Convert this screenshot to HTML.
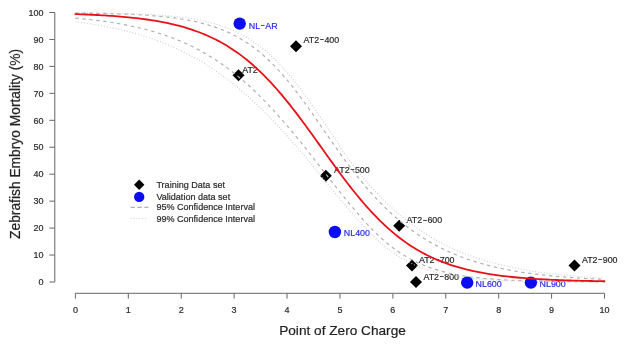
<!DOCTYPE html>
<html><head><meta charset="utf-8"><title>Zebrafish Embryo Mortality vs Point of Zero Charge</title>
<style>html,body{margin:0;padding:0;background:#fff;}svg{display:block;font-family:"Liberation Sans",Arial,sans-serif;}</style></head><body>
<svg width="624" height="345" viewBox="0 0 624 345">
<rect width="624" height="345" fill="#fff"/>
<g stroke="#666" stroke-width="1" fill="none">
<path d="M54.8,12.50 V282.00"/>
<path d="M49.3,282.00 H54.8"/>
<path d="M49.3,255.05 H54.8"/>
<path d="M49.3,228.10 H54.8"/>
<path d="M49.3,201.15 H54.8"/>
<path d="M49.3,174.20 H54.8"/>
<path d="M49.3,147.25 H54.8"/>
<path d="M49.3,120.30 H54.8"/>
<path d="M49.3,93.35 H54.8"/>
<path d="M49.3,66.40 H54.8"/>
<path d="M49.3,39.45 H54.8"/>
<path d="M49.3,12.50 H54.8"/>
<path d="M75.40,293.3 H604.50"/>
<path d="M75.40,293.3 V298.6"/>
<path d="M128.31,293.3 V298.6"/>
<path d="M181.22,293.3 V298.6"/>
<path d="M234.13,293.3 V298.6"/>
<path d="M287.04,293.3 V298.6"/>
<path d="M339.95,293.3 V298.6"/>
<path d="M392.86,293.3 V298.6"/>
<path d="M445.77,293.3 V298.6"/>
<path d="M498.68,293.3 V298.6"/>
<path d="M551.59,293.3 V298.6"/>
<path d="M604.50,293.3 V298.6"/>
</g>
<g fill="#2a2a2a" stroke="#2a2a2a" stroke-width="0.2" font-size="9.0">
<text x="43.6" y="285.22" text-anchor="end">0</text>
<text x="43.6" y="258.27" text-anchor="end">10</text>
<text x="43.6" y="231.32" text-anchor="end">20</text>
<text x="43.6" y="204.37" text-anchor="end">30</text>
<text x="43.6" y="177.42" text-anchor="end">40</text>
<text x="43.6" y="150.47" text-anchor="end">50</text>
<text x="43.6" y="123.52" text-anchor="end">60</text>
<text x="43.6" y="96.57" text-anchor="end">70</text>
<text x="43.6" y="69.62" text-anchor="end">80</text>
<text x="43.6" y="42.67" text-anchor="end">90</text>
<text x="43.6" y="15.72" text-anchor="end">100</text>
<text x="75.40" y="313.42" text-anchor="middle">0</text>
<text x="128.31" y="313.42" text-anchor="middle">1</text>
<text x="181.22" y="313.42" text-anchor="middle">2</text>
<text x="234.13" y="313.42" text-anchor="middle">3</text>
<text x="287.04" y="313.42" text-anchor="middle">4</text>
<text x="339.95" y="313.42" text-anchor="middle">5</text>
<text x="392.86" y="313.42" text-anchor="middle">6</text>
<text x="445.77" y="313.42" text-anchor="middle">7</text>
<text x="498.68" y="313.42" text-anchor="middle">8</text>
<text x="551.59" y="313.42" text-anchor="middle">9</text>
<text x="604.50" y="313.42" text-anchor="middle">10</text>
</g>
<text x="342.5" y="335.1" text-anchor="middle" font-size="13.65" fill="#222" stroke="#222" stroke-width="0.2">Point of Zero Charge</text>
<text transform="translate(20.3,143.9) rotate(-90)" text-anchor="middle" font-size="13.8" fill="#222" stroke="#222" stroke-width="0.2">Zebrafish Embryo Mortality (%)</text>
<path d="M296.00,40.20 L302.00,46.20 L296.00,52.20 L290.00,46.20 Z" fill="#000"/>
<path d="M238.50,69.20 L244.50,75.20 L238.50,81.20 L232.50,75.20 Z" fill="#000"/>
<path d="M325.80,169.70 L331.80,175.70 L325.80,181.70 L319.80,175.70 Z" fill="#000"/>
<path d="M399.20,219.80 L405.20,225.80 L399.20,231.80 L393.20,225.80 Z" fill="#000"/>
<path d="M412.00,259.50 L418.00,265.50 L412.00,271.50 L406.00,265.50 Z" fill="#000"/>
<path d="M416.00,276.10 L422.00,282.10 L416.00,288.10 L410.00,282.10 Z" fill="#000"/>
<path d="M574.50,259.50 L580.50,265.50 L574.50,271.50 L568.50,265.50 Z" fill="#000"/>
<g font-size="8.9" fill="#2a2a2a" stroke="#2a2a2a" stroke-width="0.2">
<text x="303.6" y="43.09">AT2<tspan dx="0.4" dy="-0.7" textLength="4.4" lengthAdjust="spacingAndGlyphs">-</tspan><tspan dx="0.4" dy="0.7">400</tspan></text>
<text x="242.2" y="73.49">AT2</text>
<text x="334.1" y="172.89">AT2<tspan dx="0.4" dy="-0.7" textLength="4.4" lengthAdjust="spacingAndGlyphs">-</tspan><tspan dx="0.4" dy="0.7">500</tspan></text>
<text x="406.6" y="223.29">AT2<tspan dx="0.4" dy="-0.7" textLength="4.4" lengthAdjust="spacingAndGlyphs">-</tspan><tspan dx="0.4" dy="0.7">600</tspan></text>
<text x="418.9" y="262.79">AT2<tspan dx="0.4" dy="-0.7" textLength="4.4" lengthAdjust="spacingAndGlyphs">-</tspan><tspan dx="0.4" dy="0.7">700</tspan></text>
<text x="423.4" y="279.79">AT2<tspan dx="0.4" dy="-0.7" textLength="4.4" lengthAdjust="spacingAndGlyphs">-</tspan><tspan dx="0.4" dy="0.7">800</tspan></text>
<text x="581.9" y="262.79">AT2<tspan dx="0.4" dy="-0.7" textLength="4.4" lengthAdjust="spacingAndGlyphs">-</tspan><tspan dx="0.4" dy="0.7">900</tspan></text>
</g>
<g font-size="8.9" fill="#2a2ae4" stroke="#2a2ae4" stroke-width="0.2">
<text x="248.8" y="28.79">NL<tspan dx="0.4" dy="-0.7" textLength="4.4" lengthAdjust="spacingAndGlyphs">-</tspan><tspan dx="0.4" dy="0.7">AR</tspan></text>
<text x="343.8" y="235.69">NL400</text>
<text x="475.6" y="286.89">NL600</text>
<text x="539.6" y="286.89">NL900</text>
</g>
<g fill="none" stroke="#adb1b1" stroke-width="1.2">
<path stroke-dasharray="3.3,3.7" d="M75.40,12.96 L78.05,12.99 L80.69,13.03 L83.34,13.06 L85.98,13.10 L88.63,13.14 L91.27,13.19 L93.92,13.23 L96.56,13.28 L99.21,13.34 L101.86,13.40 L104.50,13.46 L107.15,13.52 L109.79,13.59 L112.44,13.67 L115.08,13.75 L117.73,13.84 L120.37,13.93 L123.02,14.03 L125.66,14.13 L128.31,14.24 L130.96,14.36 L133.60,14.49 L136.25,14.63 L138.89,14.77 L141.54,14.93 L144.18,15.09 L146.83,15.27 L149.47,15.46 L152.12,15.66 L154.76,15.87 L157.41,16.10 L160.06,16.35 L162.70,16.61 L165.35,16.88 L167.99,17.18 L170.64,17.50 L173.28,17.83 L175.93,18.19 L178.57,18.57 L181.22,18.98 L183.87,19.41 L186.51,19.87 L189.16,20.36 L191.80,20.88 L194.45,21.44 L197.09,22.03 L199.74,22.66 L202.38,23.32 L205.03,24.03 L207.67,24.78 L210.32,25.58 L212.97,26.42 L215.61,27.32 L218.26,28.27 L220.90,29.27 L223.55,30.34 L226.19,31.46 L228.84,32.65 L231.48,33.91 L234.13,35.24 L236.78,36.64 L239.42,38.11 L242.07,39.66 L244.71,41.30 L247.36,43.01 L250.00,44.82 L252.65,46.71 L255.29,48.69 L257.94,50.77 L260.59,52.93 L263.23,55.20 L265.88,57.56 L268.52,60.02 L271.17,62.57 L273.81,65.23 L276.46,67.98 L279.10,70.83 L281.75,73.78 L284.39,76.81 L287.04,79.94 L289.69,83.16 L292.33,86.46 L294.98,89.84 L297.62,93.29 L300.27,96.82 L302.91,100.40 L305.56,104.05 L308.20,107.75 L310.85,111.48 L313.50,115.26 L316.14,119.06 L318.79,122.89 L321.43,126.73 L324.08,130.57 L326.72,134.41 L329.37,138.24 L332.01,142.05 L334.66,145.84 L337.30,149.59 L339.95,153.31 L342.60,156.99 L345.24,160.61 L347.89,164.19 L350.53,167.71 L353.18,171.17 L355.82,174.57 L358.47,177.90 L361.11,181.16 L363.76,184.36 L366.40,187.49 L369.05,190.54 L371.70,193.53 L374.34,196.44 L376.99,199.28 L379.63,202.05 L382.28,204.75 L384.92,207.37 L387.57,209.93 L390.21,212.41 L392.86,214.83 L395.51,217.18 L398.15,219.46 L400.80,221.68 L403.44,223.83 L406.09,225.91 L408.73,227.94 L411.38,229.90 L414.02,231.80 L416.67,233.64 L419.31,235.42 L421.96,237.15 L424.61,238.82 L427.25,240.43 L429.90,241.99 L432.54,243.50 L435.19,244.96 L437.83,246.37 L440.48,247.73 L443.12,249.04 L445.77,250.31 L448.42,251.54 L451.06,252.72 L453.71,253.86 L456.35,254.95 L459.00,256.01 L461.64,257.03 L464.29,258.01 L466.93,258.96 L469.58,259.87 L472.23,260.75 L474.87,261.60 L477.52,262.41 L480.16,263.19 L482.81,263.94 L485.45,264.67 L488.10,265.37 L490.74,266.04 L493.39,266.68 L496.03,267.30 L498.68,267.89 L501.33,268.47 L503.97,269.02 L506.62,269.55 L509.26,270.05 L511.91,270.54 L514.55,271.01 L517.20,271.46 L519.84,271.89 L522.49,272.30 L525.13,272.70 L527.78,273.08 L530.43,273.45 L533.07,273.80 L535.72,274.14 L538.36,274.47 L541.01,274.78 L543.65,275.07 L546.30,275.36 L548.94,275.64 L551.59,275.90 L554.24,276.15 L556.88,276.39 L559.53,276.63 L562.17,276.85 L564.82,277.06 L567.46,277.27 L570.11,277.47 L572.75,277.65 L575.40,277.84 L578.04,278.01 L580.69,278.18 L583.34,278.33 L585.98,278.49 L588.63,278.63 L591.27,278.77 L593.92,278.91 L596.56,279.04 L599.21,279.16 L601.85,279.28 L604.50,279.39"/>
<path stroke-dasharray="3.3,3.7" d="M75.40,18.12 L78.05,18.36 L80.69,18.62 L83.34,18.88 L85.98,19.15 L88.63,19.44 L91.27,19.74 L93.92,20.05 L96.56,20.37 L99.21,20.71 L101.86,21.06 L104.50,21.42 L107.15,21.80 L109.79,22.20 L112.44,22.61 L115.08,23.04 L117.73,23.49 L120.37,23.95 L123.02,24.43 L125.66,24.94 L128.31,25.46 L130.96,26.01 L133.60,26.57 L136.25,27.16 L138.89,27.77 L141.54,28.41 L144.18,29.07 L146.83,29.76 L149.47,30.48 L152.12,31.22 L154.76,31.99 L157.41,32.79 L160.06,33.62 L162.70,34.48 L165.35,35.38 L167.99,36.30 L170.64,37.27 L173.28,38.26 L175.93,39.30 L178.57,40.37 L181.22,41.48 L183.87,42.63 L186.51,43.82 L189.16,45.05 L191.80,46.32 L194.45,47.64 L197.09,49.00 L199.74,50.40 L202.38,51.86 L205.03,53.36 L207.67,54.91 L210.32,56.50 L212.97,58.15 L215.61,59.85 L218.26,61.59 L220.90,63.39 L223.55,65.25 L226.19,67.15 L228.84,69.11 L231.48,71.13 L234.13,73.19 L236.78,75.32 L239.42,77.49 L242.07,79.73 L244.71,82.01 L247.36,84.36 L250.00,86.75 L252.65,89.20 L255.29,91.71 L257.94,94.27 L260.59,96.88 L263.23,99.54 L265.88,102.26 L268.52,105.03 L271.17,107.84 L273.81,110.70 L276.46,113.61 L279.10,116.57 L281.75,119.57 L284.39,122.61 L287.04,125.69 L289.69,128.82 L292.33,131.97 L294.98,135.17 L297.62,138.39 L300.27,141.65 L302.91,144.93 L305.56,148.24 L308.20,151.56 L310.85,154.91 L313.50,158.28 L316.14,161.65 L318.79,165.04 L321.43,168.43 L324.08,171.82 L326.72,175.22 L329.37,178.60 L332.01,181.97 L334.66,185.33 L337.30,188.67 L339.95,191.98 L342.60,195.27 L345.24,198.54 L347.89,201.80 L350.53,205.02 L353.18,208.20 L355.82,211.34 L358.47,214.43 L361.11,217.46 L363.76,220.43 L366.40,223.33 L369.05,226.15 L371.70,228.90 L374.34,231.56 L376.99,234.14 L379.63,236.63 L382.28,239.03 L384.92,241.34 L387.57,243.56 L390.21,245.68 L392.86,247.72 L395.51,249.66 L398.15,251.52 L400.80,253.28 L403.44,254.97 L406.09,256.56 L408.73,258.08 L411.38,259.52 L414.02,260.88 L416.67,262.17 L419.31,263.39 L421.96,264.54 L424.61,265.63 L427.25,266.65 L429.90,267.62 L432.54,268.53 L435.19,269.38 L437.83,270.19 L440.48,270.94 L443.12,271.65 L445.77,272.32 L448.42,272.95 L451.06,273.53 L453.71,274.09 L456.35,274.60 L459.00,275.09 L461.64,275.54 L464.29,275.97 L466.93,276.36 L469.58,276.74 L472.23,277.08 L474.87,277.41 L477.52,277.71 L480.16,278.00 L482.81,278.27 L485.45,278.51 L488.10,278.75 L490.74,278.96 L493.39,279.17 L496.03,279.36 L498.68,279.53 L501.33,279.70 L503.97,279.85 L506.62,280.00 L509.26,280.13 L511.91,280.26 L514.55,280.38 L517.20,280.49 L519.84,280.59 L522.49,280.68 L525.13,280.77 L527.78,280.86 L530.43,280.93 L533.07,281.00 L535.72,281.07 L538.36,281.13 L541.01,281.19 L543.65,281.25 L546.30,281.30 L548.94,281.35 L551.59,281.39 L554.24,281.43 L556.88,281.47 L559.53,281.51 L562.17,281.54 L564.82,281.57 L567.46,281.60 L570.11,281.63 L572.75,281.65 L575.40,281.68 L578.04,281.70 L580.69,281.72 L583.34,281.74 L585.98,281.76 L588.63,281.77 L591.27,281.79 L593.92,281.80 L596.56,281.82 L599.21,281.83 L601.85,281.84 L604.50,281.85"/>
<path stroke="#cccfcf" stroke-width="1.1" stroke-dasharray="1,1.9" d="M75.40,12.78 L78.05,12.80 L80.69,12.82 L83.34,12.84 L85.98,12.87 L88.63,12.90 L91.27,12.93 L93.92,12.96 L96.56,12.99 L99.21,13.03 L101.86,13.07 L104.50,13.11 L107.15,13.16 L109.79,13.20 L112.44,13.26 L115.08,13.31 L117.73,13.37 L120.37,13.44 L123.02,13.51 L125.66,13.58 L128.31,13.66 L130.96,13.74 L133.60,13.84 L136.25,13.93 L138.89,14.04 L141.54,14.15 L144.18,14.27 L146.83,14.40 L149.47,14.54 L152.12,14.69 L154.76,14.85 L157.41,15.03 L160.06,15.21 L162.70,15.41 L165.35,15.62 L167.99,15.85 L170.64,16.09 L173.28,16.35 L175.93,16.63 L178.57,16.93 L181.22,17.25 L183.87,17.59 L186.51,17.96 L189.16,18.35 L191.80,18.77 L194.45,19.21 L197.09,19.69 L199.74,20.20 L202.38,20.75 L205.03,21.33 L207.67,21.95 L210.32,22.61 L212.97,23.32 L215.61,24.08 L218.26,24.88 L220.90,25.73 L223.55,26.64 L226.19,27.61 L228.84,28.64 L231.48,29.73 L234.13,30.89 L236.78,32.12 L239.42,33.42 L242.07,34.80 L244.71,36.25 L247.36,37.79 L250.00,39.42 L252.65,41.13 L255.29,42.94 L257.94,44.84 L260.59,46.84 L263.23,48.93 L265.88,51.13 L268.52,53.43 L271.17,55.83 L273.81,58.33 L276.46,60.94 L279.10,63.66 L281.75,66.48 L284.39,69.40 L287.04,72.41 L289.69,75.53 L292.33,78.74 L294.98,82.04 L297.62,85.42 L300.27,88.89 L302.91,92.42 L305.56,96.02 L308.20,99.69 L310.85,103.40 L313.50,107.16 L316.14,110.95 L318.79,114.76 L321.43,118.60 L324.08,122.44 L326.72,126.29 L329.37,130.12 L332.01,133.94 L334.66,137.74 L337.30,141.50 L339.95,147.25 L342.60,150.93 L345.24,154.57 L347.89,158.15 L350.53,161.67 L353.18,165.13 L355.82,168.53 L358.47,171.86 L361.11,175.12 L363.76,178.31 L366.40,181.44 L369.05,184.49 L371.70,187.47 L374.34,190.38 L376.99,193.22 L379.63,195.99 L382.28,198.69 L384.92,201.32 L387.57,203.88 L390.21,206.38 L392.86,208.80 L395.51,211.17 L398.15,213.47 L400.80,215.70 L403.44,217.87 L406.09,219.99 L408.73,222.04 L411.38,224.04 L414.02,225.97 L416.67,227.85 L419.31,229.68 L421.96,231.45 L424.61,233.17 L427.25,234.84 L429.90,236.46 L432.54,238.03 L435.19,239.55 L437.83,241.02 L440.48,242.45 L443.12,243.83 L445.77,245.17 L448.42,246.46 L451.06,247.72 L453.71,248.93 L456.35,250.11 L459.00,251.24 L461.64,252.34 L464.29,253.40 L466.93,254.43 L469.58,255.43 L472.23,256.38 L474.87,257.31 L477.52,258.21 L480.16,259.07 L482.81,259.91 L485.45,260.72 L488.10,261.50 L490.74,262.25 L493.39,262.97 L496.03,263.67 L498.68,264.35 L501.33,265.00 L503.97,265.63 L506.62,266.24 L509.26,266.82 L511.91,267.39 L514.55,267.93 L517.20,268.46 L519.84,268.96 L522.49,269.45 L525.13,269.92 L527.78,270.37 L530.43,270.81 L533.07,271.23 L535.72,271.64 L538.36,272.03 L541.01,272.40 L543.65,272.76 L546.30,273.11 L548.94,273.45 L551.59,273.77 L554.24,274.08 L556.88,274.38 L559.53,274.67 L562.17,274.95 L564.82,275.22 L567.46,275.47 L570.11,275.72 L572.75,275.96 L575.40,276.19 L578.04,276.41 L580.69,276.62 L583.34,276.83 L585.98,277.03 L588.63,277.22 L591.27,277.40 L593.92,277.57 L596.56,277.74 L599.21,277.91 L601.85,278.06 L604.50,278.21"/>
<path stroke="#cccfcf" stroke-width="1.1" stroke-dasharray="1,1.9" d="M75.40,21.68 L78.05,22.03 L80.69,22.39 L83.34,22.76 L85.98,23.14 L88.63,23.54 L91.27,23.96 L93.92,24.39 L96.56,24.83 L99.21,25.29 L101.86,25.77 L104.50,26.26 L107.15,26.77 L109.79,27.30 L112.44,27.85 L115.08,28.42 L117.73,29.00 L120.37,29.61 L123.02,30.24 L125.66,30.89 L128.31,31.56 L130.96,32.26 L133.60,32.98 L136.25,33.72 L138.89,34.49 L141.54,35.28 L144.18,36.10 L146.83,36.95 L149.47,37.83 L152.12,38.73 L154.76,39.67 L157.41,40.63 L160.06,41.62 L162.70,42.65 L165.35,43.71 L167.99,44.80 L170.64,45.92 L173.28,47.08 L175.93,48.27 L178.57,49.50 L181.22,50.77 L183.87,52.07 L186.51,53.41 L189.16,54.79 L191.80,56.21 L194.45,57.67 L197.09,59.17 L199.74,60.71 L202.38,62.29 L205.03,63.92 L207.67,65.58 L210.32,67.29 L212.97,69.05 L215.61,70.84 L218.26,72.69 L220.90,74.57 L223.55,76.50 L226.19,78.48 L228.84,80.50 L231.48,82.56 L234.13,84.67 L236.78,86.83 L239.42,89.03 L242.07,91.28 L244.71,93.57 L247.36,95.91 L250.00,98.29 L252.65,100.71 L255.29,103.18 L257.94,105.69 L260.59,108.25 L263.23,110.84 L265.88,113.48 L268.52,116.16 L271.17,118.88 L273.81,121.63 L276.46,124.43 L279.10,127.26 L281.75,130.13 L284.39,133.03 L287.04,135.97 L289.69,138.94 L292.33,141.94 L294.98,144.98 L297.62,148.04 L300.27,151.12 L302.91,154.23 L305.56,157.37 L308.20,160.53 L310.85,163.70 L313.50,166.89 L316.14,170.10 L318.79,173.32 L321.43,176.54 L324.08,179.77 L326.72,183.00 L329.37,186.23 L332.01,189.45 L334.66,192.66 L337.30,195.85 L339.95,199.02 L342.60,202.18 L345.24,205.33 L347.89,208.47 L350.53,211.58 L353.18,214.66 L355.82,217.70 L358.47,220.70 L361.11,223.64 L363.76,226.51 L366.40,229.32 L369.05,232.05 L371.70,234.70 L374.34,237.26 L376.99,239.73 L379.63,242.11 L382.28,244.40 L384.92,246.60 L387.57,248.69 L390.21,250.70 L392.86,252.60 L395.51,254.42 L398.15,256.14 L400.80,257.78 L403.44,259.32 L406.09,260.78 L408.73,262.16 L411.38,263.46 L414.02,264.69 L416.67,265.84 L419.31,266.92 L421.96,267.94 L424.61,268.89 L427.25,269.79 L429.90,270.62 L432.54,271.41 L435.19,272.14 L437.83,272.82 L440.48,273.46 L443.12,274.06 L445.77,274.62 L448.42,275.14 L451.06,275.62 L453.71,276.08 L456.35,276.50 L459.00,276.89 L461.64,277.25 L464.29,277.59 L466.93,277.91 L469.58,278.20 L472.23,278.48 L474.87,278.73 L477.52,278.97 L480.16,279.19 L482.81,279.39 L485.45,279.58 L488.10,279.75 L490.74,279.92 L493.39,280.07 L496.03,280.21 L498.68,280.34 L501.33,280.46 L503.97,280.57 L506.62,280.68 L509.26,280.77 L511.91,280.86 L514.55,280.95 L517.20,281.02 L519.84,281.09 L522.49,281.16 L525.13,281.22 L527.78,281.28 L530.43,281.33 L533.07,281.38 L535.72,281.43 L538.36,281.47 L541.01,281.51 L543.65,281.54 L546.30,281.58 L548.94,281.61 L551.59,281.64 L554.24,281.66 L556.88,281.69 L559.53,281.71 L562.17,281.73 L564.82,281.75 L567.46,281.77 L570.11,281.79 L572.75,281.80 L575.40,281.82 L578.04,281.83 L580.69,281.84 L583.34,281.86 L585.98,281.87 L588.63,281.88 L591.27,281.89 L593.92,281.89 L596.56,281.90 L599.21,281.91 L601.85,281.92 L604.50,281.92"/>
</g>
<circle cx="239.70" cy="23.60" r="6.20" fill="#0c0cf2"/>
<circle cx="334.90" cy="232.00" r="6.20" fill="#0c0cf2"/>
<circle cx="467.20" cy="282.60" r="6.20" fill="#0c0cf2"/>
<circle cx="530.90" cy="282.60" r="6.20" fill="#0c0cf2"/>
<path fill="none" stroke="#e81018" stroke-width="1.8" stroke-linecap="round" d="M75.40,14.12 L78.05,14.21 L80.69,14.30 L83.34,14.40 L85.98,14.51 L88.63,14.62 L91.27,14.74 L93.92,14.87 L96.56,15.00 L99.21,15.14 L101.86,15.29 L104.50,15.45 L107.15,15.61 L109.79,15.78 L112.44,15.97 L115.08,16.16 L117.73,16.37 L120.37,16.58 L123.02,16.81 L125.66,17.05 L128.31,17.30 L130.96,17.57 L133.60,17.85 L136.25,18.14 L138.89,18.45 L141.54,18.78 L144.18,19.13 L146.83,19.50 L149.47,19.88 L152.12,20.29 L154.76,20.71 L157.41,21.16 L160.06,21.63 L162.70,22.13 L165.35,22.66 L167.99,23.21 L170.64,23.79 L173.28,24.40 L175.93,25.04 L178.57,25.71 L181.22,26.42 L183.87,27.17 L186.51,27.95 L189.16,28.77 L191.80,29.63 L194.45,30.53 L197.09,31.48 L199.74,32.48 L202.38,33.52 L205.03,34.61 L207.67,35.75 L210.32,36.95 L212.97,38.20 L215.61,39.50 L218.26,40.87 L220.90,42.30 L223.55,43.79 L226.19,45.34 L228.84,46.96 L231.48,48.65 L234.13,50.40 L236.78,52.23 L239.42,54.13 L242.07,56.10 L244.71,58.15 L247.36,60.27 L250.00,62.47 L252.65,64.75 L255.29,67.11 L257.94,69.54 L260.59,72.05 L263.23,74.64 L265.88,77.31 L268.52,80.06 L271.17,82.88 L273.81,85.78 L276.46,88.75 L279.10,91.79 L281.75,94.90 L284.39,98.08 L287.04,101.33 L289.69,104.63 L292.33,108.00 L294.98,111.41 L297.62,114.88 L300.27,118.40 L302.91,121.95 L305.56,125.54 L308.20,129.17 L310.85,132.82 L313.50,136.49 L316.14,140.18 L318.79,143.88 L321.43,147.59 L324.08,151.29 L326.72,154.99 L329.37,158.68 L332.01,162.35 L334.66,165.99 L337.30,169.61 L339.95,173.20 L342.60,176.75 L345.24,180.25 L347.89,183.71 L350.53,187.12 L353.18,190.47 L355.82,193.77 L358.47,197.00 L361.11,200.17 L363.76,203.27 L366.40,206.30 L369.05,209.26 L371.70,212.14 L374.34,214.95 L376.99,217.68 L379.63,220.33 L382.28,222.91 L384.92,225.41 L387.57,227.83 L390.21,230.17 L392.86,232.43 L395.51,234.62 L398.15,236.73 L400.80,238.76 L403.44,240.72 L406.09,242.61 L408.73,244.42 L411.38,246.17 L414.02,247.84 L416.67,249.45 L419.31,250.99 L421.96,252.47 L424.61,253.88 L427.25,255.24 L429.90,256.53 L432.54,257.78 L435.19,258.96 L437.83,260.09 L440.48,261.18 L443.12,262.21 L445.77,263.19 L448.42,264.13 L451.06,265.03 L453.71,265.88 L456.35,266.70 L459.00,267.47 L461.64,268.21 L464.29,268.91 L466.93,269.58 L469.58,270.21 L472.23,270.82 L474.87,271.39 L477.52,271.94 L480.16,272.46 L482.81,272.95 L485.45,273.42 L488.10,273.87 L490.74,274.29 L493.39,274.69 L496.03,275.07 L498.68,275.43 L501.33,275.78 L503.97,276.10 L506.62,276.41 L509.26,276.71 L511.91,276.98 L514.55,277.25 L517.20,277.50 L519.84,277.73 L522.49,277.96 L525.13,278.17 L527.78,278.37 L530.43,278.57 L533.07,278.75 L535.72,278.92 L538.36,279.08 L541.01,279.24 L543.65,279.38 L546.30,279.52 L548.94,279.65 L551.59,279.78 L554.24,279.90 L556.88,280.01 L559.53,280.11 L562.17,280.21 L564.82,280.31 L567.46,280.40 L570.11,280.48 L572.75,280.56 L575.40,280.64 L578.04,280.71 L580.69,280.78 L583.34,280.85 L585.98,280.91 L588.63,280.97 L591.27,281.02 L593.92,281.07 L596.56,281.12 L599.21,281.17 L601.85,281.21 L604.50,281.26"/>
<path d="M139.20,179.60 L144.40,184.80 L139.20,190.00 L134.00,184.80 Z" fill="#000"/>
<circle cx="139.20" cy="196.90" r="5.20" fill="#0c0cf2"/>
<path d="M130.6,207.4 H148.4" stroke="#adb1b1" stroke-width="1.3" stroke-dasharray="4.3,2.6" fill="none"/>
<path d="M130.6,218.5 H147" stroke="#cccfcf" stroke-width="1.1" stroke-dasharray="1,1.9" fill="none"/>
<g font-size="9.05" fill="#2a2a2a" stroke="#2a2a2a" stroke-width="0.2">
<text x="156.4" y="188.04">Training Data set</text>
<text x="156.4" y="200.14">Validation data set</text>
<text x="156.4" y="210.34">95% Confidence Interval</text>
<text x="156.4" y="222.14">99% Confidence Interval</text>
</g>
</svg></body></html>
